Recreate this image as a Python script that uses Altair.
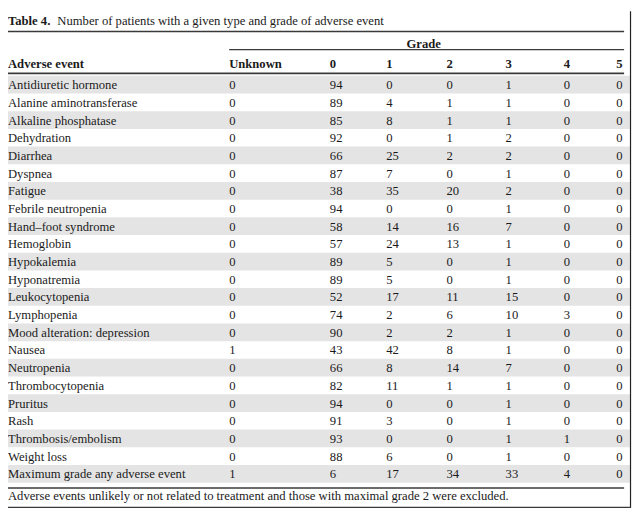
import altair as alt
import pandas as pd

# ---- data ----
events = [
    "Antidiuretic hormone", "Alanine aminotransferase", "Alkaline phosphatase",
    "Dehydration", "Diarrhea", "Dyspnea", "Fatigue", "Febrile neutropenia",
    "Hand\u2013foot syndrome", "Hemoglobin", "Hypokalemia", "Hyponatremia",
    "Leukocytopenia", "Lymphopenia", "Mood alteration: depression", "Nausea",
    "Neutropenia", "Thrombocytopenia", "Pruritus", "Rash",
    "Thrombosis/embolism", "Weight loss", "Maximum grade any adverse event",
]
columns = ["Unknown", "0", "1", "2", "3", "4", "5"]
grade_unknown = [0, 0, 0, 0, 0, 0, 0, 0, 0, 0, 0, 0, 0, 0, 0, 1, 0, 0, 0, 0, 0, 0, 1]
grade_0 = [94, 89, 85, 92, 66, 87, 38, 94, 58, 57, 89, 89, 52, 74, 90, 43, 66, 82, 94, 91, 93, 88, 6]
grade_1 = [0, 4, 8, 0, 25, 7, 35, 0, 14, 24, 5, 5, 17, 2, 2, 42, 8, 11, 0, 3, 0, 6, 17]
grade_2 = [0, 1, 1, 1, 2, 0, 20, 0, 16, 13, 0, 0, 11, 6, 2, 8, 14, 1, 0, 0, 0, 0, 34]
grade_3 = [1, 1, 1, 2, 2, 1, 2, 1, 7, 1, 1, 1, 15, 10, 1, 1, 7, 1, 1, 1, 1, 1, 33]
grade_4 = [0, 0, 0, 0, 0, 0, 0, 0, 0, 0, 0, 0, 0, 3, 0, 0, 0, 0, 0, 0, 1, 0, 4]
grade_5 = [0] * 23
title_bold = "Table 4."
title_text = "Number of patients with a given type and grade of adverse event"
group_header = "Grade"
first_header = "Adverse event"
footnote = "Adverse events unlikely or not related to treatment and those with maximal grade 2 were excluded."

# ---- layout (chart pixel coords, page = chart + 8) ----
W, H = 632, 505
col_left = {"Unknown": 224, "0": 326, "1": 383, "2": 444, "3": 504, "4": 563, "5": 616}
ROW_TOP, ROW_BOTTOM = 65.5, 477.5
FONT = "Liberation Serif"
FS = 12.8
TXT = "#1a1a1a"
RULE = "#3a3a3a"
SHADE = "#e4e4e4"

series = [grade_unknown, grade_0, grade_1, grade_2, grade_3, grade_4, grade_5]
cells = []
for ci, col in enumerate(columns):
    for ri, ev in enumerate(events):
        cells.append({"event": ev, "col": col, "value": str(series[ci][ri]),
                      "xpos": col_left[col]})
cells_df = pd.DataFrame(cells)
rows_df = pd.DataFrame({"event": events, "idx": list(range(len(events)))})
rows_df["xpos"] = 0
shade_df = rows_df[rows_df["idx"] % 2 == 0]
hdr_df = pd.DataFrame({"label": columns, "xpos": [col_left[c] for c in columns]})

xs = alt.Scale(domain=[0, W], range=[0, W])
ys = alt.Scale(domain=events, range=[ROW_TOP, ROW_BOTTOM], paddingInner=0, paddingOuter=0)
X = lambda: alt.X("xpos:Q", scale=xs, axis=None)
Y = lambda: alt.Y("event:N", scale=ys, axis=None, sort=events)

shade = alt.Chart(shade_df).mark_rect(color=SHADE).encode(
    y=Y(), x=alt.value(0), x2=alt.value(630)
)
labels = alt.Chart(rows_df).mark_text(
    align="left", baseline="middle", font=FONT, fontSize=FS, color=TXT, dy=0.5
).encode(x=X(), y=Y(), text="event:N")
values = alt.Chart(cells_df).mark_text(
    align="left", baseline="middle", font=FONT, fontSize=FS, color=TXT, dy=0.5
).encode(x=X(), y=Y(), text="value:N")

col_hdr = alt.Chart(hdr_df).mark_text(
    align="left", baseline="middle", font=FONT, fontSize=FS, fontWeight="bold", color=TXT
).encode(x=X(), y=alt.value(54), text="label:N")

def text_at(txt, x, y, bold=False, align="left"):
    return alt.Chart(pd.DataFrame({"t": [txt]})).mark_text(
        align=align, baseline="middle", font=FONT, fontSize=FS,
        fontWeight="bold" if bold else "normal", color=TXT
    ).encode(x=alt.value(x), y=alt.value(y), text="t:N")

def rule(x1, x2, y, w=1.0):
    return alt.Chart(pd.DataFrame({"a": [0]})).mark_rule(color=RULE, strokeWidth=w).encode(
        x=alt.value(x1), x2=alt.value(x2), y=alt.value(y)
    )

def vrule(x, y1, y2, w=1.0):
    return alt.Chart(pd.DataFrame({"a": [0]})).mark_rule(color="#222222", strokeWidth=w).encode(
        x=alt.value(x), y=alt.value(y1), y2=alt.value(y2)
    )

chart = alt.layer(
    shade,
    labels,
    values,
    col_hdr,
    text_at(title_bold, 0, 10, bold=True),
    text_at(title_text, 50, 10),
    text_at(group_header, 421, 33, bold=True, align="center"),
    text_at(first_header, 0, 54, bold=True),
    text_at(footnote, 0, 491),
    rule(0, 624, 20.5, 1.5),
    rule(224, 624, 39, 1.2),
    rule(0, 624, 63, 1.8),
    rule(0, 624, 483, 1.5),
    vrule(630.5, 0, 503, 1.2),
    rule(0, 631, 502.5, 1.2),
).properties(
    width=W, height=H, padding=0, autosize=alt.AutoSizeParams(type="none")
).configure_view(stroke=None)

chart.save("out.html", embed_options={"renderer": "svg", "actions": False})
